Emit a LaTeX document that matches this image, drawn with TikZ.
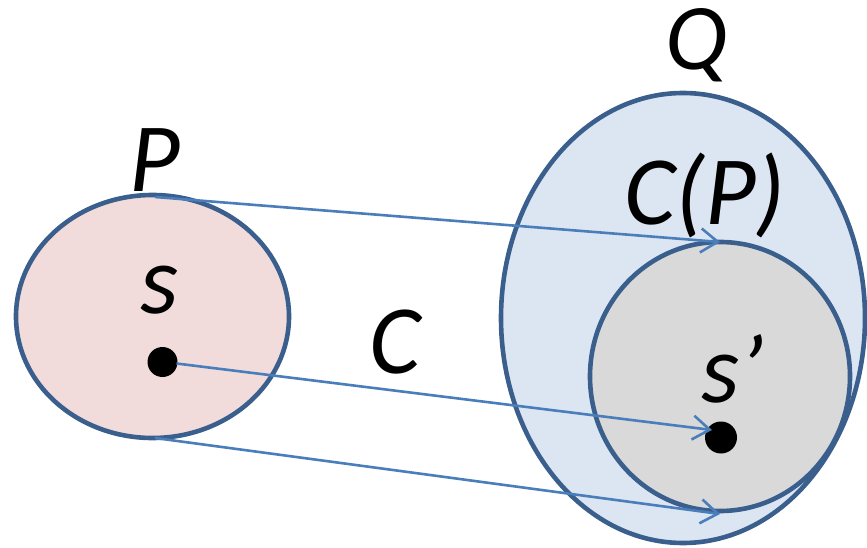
\documentclass[tikz,border=0pt]{standalone}
\usepackage{fontspec}
\setmainfont{Carlito}
\usetikzlibrary{arrows.meta}
\definecolor{pinkfill}{HTML}{F2DCDB}
\definecolor{qfill}{HTML}{DCE6F2}
\definecolor{grayfill}{HTML}{D9D9D9}
\definecolor{edge}{HTML}{3A5F8D}
\definecolor{arr}{HTML}{4A7EBB}
\tikzset{
  setshape/.style={draw=edge, line width=4.6pt},
  mapto/.style={draw=arr, line width=2.6pt, -{Straight Barb[length=17pt,width=24pt,line width=2.6pt]}},
  dotpt/.style={circle, fill=black, inner sep=0pt},
  biglabel/.style={font=\fontsize{98}{100}\selectfont\itshape, anchor=base, inner sep=0pt},
}
\begin{document}
\begin{tikzpicture}[x=1pt,y=-1pt]
\useasboundingbox (0,0) rectangle (867,548);
% sets
\draw[setshape, fill=pinkfill] (152.5,316.5) ellipse [x radius=136.5, y radius=121.5];
\draw[setshape, fill=qfill] (683,318) ellipse [x radius=182, y radius=225];
\draw[setshape, fill=grayfill] (720,376.5) ellipse [x radius=130, y radius=134.5];
% dots
\node[dotpt, minimum size=30pt] (s) at (162.5,362) {};
\node[dotpt, minimum size=32pt] (sp) at (721,437.5) {};
% arrow end points
\coordinate (a1s) at (155,197);
\coordinate (a1e) at (720,242);
\coordinate (a2e) at (712,430);
\coordinate (a3s) at (155,438);
\coordinate (a3e) at (720,514);
\path (s.center) ++(14,1.5) coordinate (a2s);
\draw[mapto] (a1s) -- (a1e);
\draw[mapto] (a2s) -- (a2e);
\draw[mapto] (a3s) -- (a3e);
% labels
\node[biglabel] (lP) at (155,192) {P};
\node[biglabel] (ls) at (160,313) {s};
\node[biglabel] (lC) at (395,373) {C};
\node[biglabel, font=\fontsize{94}{96}\selectfont\itshape] (lQ) at (697,70) {Q};
\node[biglabel] (lCP) at (705,225) {C(P)};
\node[biglabel] (lsp) at (733,402) {s’};
\end{tikzpicture}
\end{document}
